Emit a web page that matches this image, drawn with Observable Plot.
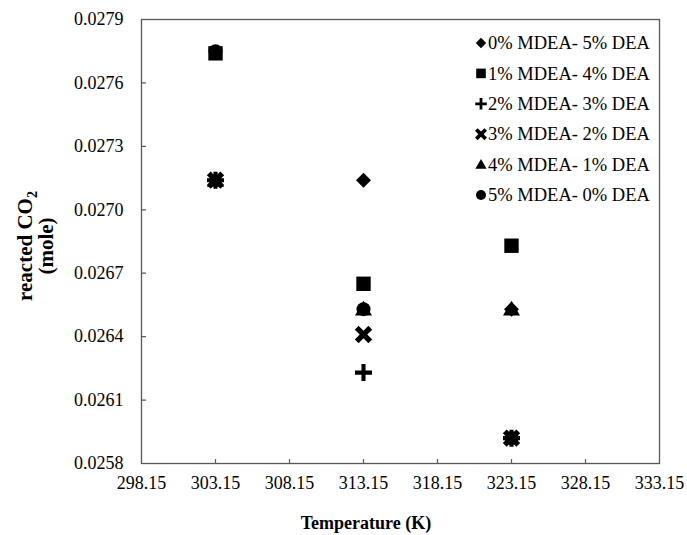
<!DOCTYPE html>
<html><head><meta charset="utf-8">
<script src="https://cdn.jsdelivr.net/npm/d3@7"></script>
<script src="https://cdn.jsdelivr.net/npm/@observablehq/plot@0.6"></script>
<style>
body{margin:0;background:#fff;}
#wrap{position:relative;width:687px;height:535px;}
</style></head><body><div id="wrap"></div>
<script>
// ---- data ----
const temperatures = [303.15, 313.15, 323.15];
const seriesNames = ["0% MDEA- 5% DEA","1% MDEA- 4% DEA","2% MDEA- 3% DEA","3% MDEA- 2% DEA","4% MDEA- 1% DEA","5% MDEA- 0% DEA"];
const mdea0 = [0.02714, 0.02714, 0.02653];
const mdea1 = [0.02774, 0.02665, 0.02683];
const mdea2 = [0.02714, 0.02623, 0.02592];
const mdea3 = [0.02714, 0.02641, 0.02592];
const mdea4 = [0.02714, 0.02653, 0.02653];
const mdea5 = [0.02775, 0.02653, 0.02592];
const xTicks = [298.15, 303.15, 308.15, 313.15, 318.15, 323.15, 328.15, 333.15];
const yTicks = [0.0258, 0.0261, 0.0264, 0.0267, 0.0270, 0.0273, 0.0276, 0.0279];

const FONT = '"Liberation Serif","Times New Roman",serif';
const AXIS = "#595959";

// ---- custom marker shapes (r = half size) ----
const mk = f => ({draw(ctx, size){ f(ctx, Math.sqrt(size/Math.PI)); }});
const diamond = mk((c,r)=>{c.moveTo(0,-r);c.lineTo(r,0);c.lineTo(0,r);c.lineTo(-r,0);c.closePath();});
const square = mk((c,r)=>{c.moveTo(-r,-r);c.lineTo(r,-r);c.lineTo(r,r);c.lineTo(-r,r);c.closePath();});
const plus = mk((c,r)=>{const t=r*0.24;
  c.moveTo(-t,-r);c.lineTo(t,-r);c.lineTo(t,-t);c.lineTo(r,-t);c.lineTo(r,t);c.lineTo(t,t);
  c.lineTo(t,r);c.lineTo(-t,r);c.lineTo(-t,t);c.lineTo(-r,t);c.lineTo(-r,-t);c.lineTo(-t,-t);c.closePath();});
const cross = mk((c,r)=>{const t=r*0.28, L=r;
  const pts=[[-t,-L],[t,-L],[t,-t],[L,-t],[L,t],[t,t],[t,L],[-t,L],[-t,t],[-L,t],[-L,-t],[-t,-t]];
  const a=Math.PI/4, ca=Math.cos(a), sa=Math.sin(a);
  pts.forEach(([x,y],i)=>{const X=x*ca-y*sa, Y=x*sa+y*ca; i?c.lineTo(X,Y):c.moveTo(X,Y);}); c.closePath();});
const triangle = mk((c,r)=>{c.moveTo(0,-r);c.lineTo(r,0.76*r);c.lineTo(-r,0.76*r);c.closePath();});
const circle = mk((c,r)=>{c.moveTo(r,0);c.arc(0,0,r,0,2*Math.PI);c.closePath();});

const seriesValues = [mdea0, mdea1, mdea2, mdea3, mdea4, mdea5];
const symbols = [diamond, square, plus, cross, triangle, circle];
const plotR = [7.5, 7.2, 8.5, 9.6, 8.5, 7];
const legendR = [5.2, 4.8, 5.8, 6.6, 5.6, 5];

const rows = seriesNames.flatMap((name,i)=>temperatures.map((t,j)=>({series:name, i, t, v: seriesValues[i][j]})));

const tickShape = {draw(ctx, l){ ctx.moveTo(0,0); ctx.lineTo(0,-l); }};
const yDom = [0.0258, 0.0279], xDom = [298.15, 333.15];

const svg = Plot.plot({
  width: 687, height: 535,
  marginLeft: 141, marginRight: 28, marginTop: 19, marginBottom: 72,
  style: {fontFamily: FONT, fontSize: "18px", color: "#000", background: "#fff"},
  x: {domain: xDom, label: null},
  y: {domain: yDom, label: null},
  marks: [
    Plot.axisX(xTicks, {tickSize: 0, tickPadding: 13, tickFormat: d=>d.toFixed(2), label: null}),
    Plot.axisY(yTicks, {tickSize: 0, tickPadding: 18, tickFormat: d=>d.toFixed(4), label: null}),
    Plot.vector(xTicks.slice(1,-1), {x: d=>d, y: yDom[0], length: 4, rotate: 0, anchor: "start", shape: tickShape, stroke: AXIS, strokeWidth: 1.2}),
    Plot.vector(yTicks.slice(1,-1), {x: xDom[0], y: d=>d, length: 4, rotate: 90, anchor: "start", shape: tickShape, stroke: AXIS, strokeWidth: 1.2}),
    Plot.frame({stroke: AXIS, strokeWidth: 1.3}),
    ...seriesNames.map((name,i)=>Plot.dot(rows.filter(d=>d.i===i), {x:"t", y:"v", symbol: symbols[i], r: plotR[i], fill:"black", stroke:"none"}))
  ]
});

const s = d3.select(svg);
// axis titles
s.append("text").attr("x", 366).attr("y", 529).attr("text-anchor","middle")
  .attr("font-family", FONT).attr("font-weight","bold").attr("font-size", 18).attr("fill","#000")
  .text("Temperature (K)");
const yt = s.append("text").attr("transform","translate(32,246) rotate(-90)").attr("text-anchor","middle")
  .attr("font-family", FONT).attr("font-weight","bold").attr("font-size", 21).attr("fill","#000");
yt.append("tspan").text("reacted CO");
yt.append("tspan").attr("font-size", 14).attr("dy", 5).text("2");
s.append("text").attr("transform","translate(53,246) rotate(-90)").attr("text-anchor","middle")
  .attr("font-family", FONT).attr("font-weight","bold").attr("font-size", 21).attr("fill","#000")
  .text("(mole)");

// legend
const lg = s.append("g").attr("text-anchor","start");
seriesNames.forEach((name,i)=>{
  const cy = 43 + i*30.4;
  lg.append("path").attr("transform",`translate(481,${cy})`)
    .attr("d", d3.symbol(symbols[i], legendR[i]*legendR[i]*Math.PI)()).attr("fill","#000");
  lg.append("text").attr("x", 488).attr("y", cy).attr("dy","0.34em").attr("text-anchor","start")
    .attr("font-family", FONT).attr("font-size", 18.5).attr("fill","#000").text(name);
});

document.getElementById("wrap").appendChild(svg);
</script></body></html>
